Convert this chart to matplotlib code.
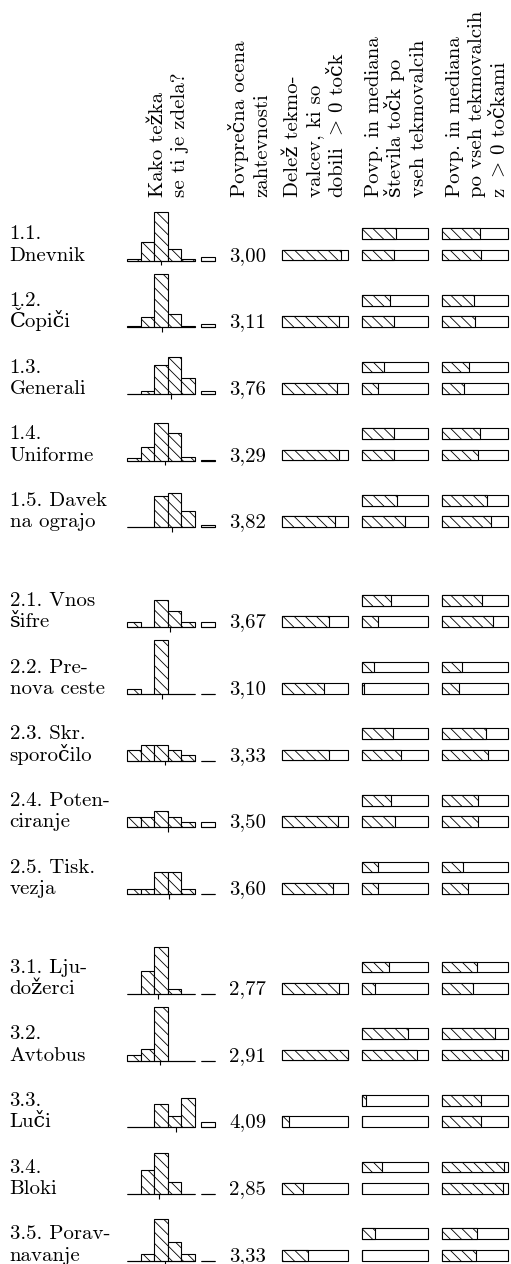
import numpy as np
import matplotlib
matplotlib.use('Agg')
from matplotlib import pyplot as plt

# row labels (two lines each) and group of each row
labels = [
    ("1.1.", "Dnevnik"), ("1.2.", "Čopiči"), ("1.3.", "Generali"),
    ("1.4.", "Uniforme"), ("1.5. Davek", "na ograjo"),
    ("2.1. Vnos", "šifre"), ("2.2. Pre-", "nova ceste"), ("2.3. Skr.", "sporočilo"),
    ("2.4. Poten-", "ciranje"), ("2.5. Tisk.", "vezja"),
    ("3.1. Lju-", "dožerci"), ("3.2.", "Avtobus"), ("3.3.", "Luči"),
    ("3.4.", "Bloki"), ("3.5. Porav-", "navanje"),
]
groups = [0] * 5 + [1] * 5 + [2] * 5

# "Kako težka se ti je zdela?" - relative bar heights for answers 1..5
hist = [
    [2.0, 18.7, 48.7, 12.0, 2.0],
    [1.0, 10.7, 53.0, 13.7, 1.7],
    [0.0, 3.3, 29.0, 37.3, 15.7],
    [2.3, 14.0, 37.7, 27.3, 4.0],
    [0.0, 0.0, 31.7, 34.3, 16.3],
    [5.4, 0.0, 27.0, 16.2, 5.4],
    [5.4, 0.0, 54.0, 0.0, 0.0],
    [10.8, 16.2, 16.2, 10.8, 5.4],
    [10.8, 10.8, 16.2, 10.8, 5.4],
    [5.4, 5.4, 21.6, 21.6, 5.4],
    [0.0, 23.3, 47.3, 5.3, 0.0],
    [5.7, 12.0, 53.3, 0.0, 0.0],
    [0.0, 0.0, 23.7, 11.7, 29.3],
    [0.0, 23.7, 41.3, 12.0, 0.0],
    [0.0, 6.7, 41.7, 18.3, 6.7],
]
# no answer
no_answer = [4.0, 3.3, 3.3, 0.7, 2.7, 5.4, 0.0, 0.0, 5.4, 0.0, 0.0, 0.0, 5.3, 0.0, 0.0]

mean_rating = [3.00, 3.11, 3.76, 3.29, 3.82, 3.67, 3.10, 3.33, 3.50, 3.60,
               2.77, 2.91, 4.09, 2.85, 3.33]

share_pos = [0.886, 0.865, 0.826, 0.865, 0.80, 0.715, 0.64, 0.715, 0.84, 0.765,
             0.865, 1.0, 0.115, 0.325, 0.40]
avg_all = [0.515, 0.425, 0.34, 0.49, 0.535, 0.44, 0.19, 0.475, 0.44, 0.25,
           0.415, 0.70, 0.065, 0.31, 0.20]
med_all = [0.49, 0.49, 0.25, 0.49, 0.65, 0.25, 0.04, 0.59, 0.50, 0.25,
           0.20, 0.825, 0.0, 0.0, 0.0]
avg_pos = [0.575, 0.49, 0.415, 0.575, 0.675, 0.61, 0.30, 0.665, 0.54, 0.325,
           0.525, 0.80, 0.59, 0.935, 0.525]
med_pos = [0.59, 0.50, 0.34, 0.55, 0.74, 0.775, 0.265, 0.70, 0.55, 0.40,
           0.475, 0.90, 0.59, 0.925, 0.515]

# header lines; ">" is set in math mode (cmr10 has no such glyph)
headers = [
    [["Kako težka"], ["se ti je zdela?"]],
    [["Povprečna ocena"], ["zahtevnosti"]],
    [["Delež tekmo-"], ["valcev, ki so"], ["dobili", "$>$", "0 točk"]],
    [["Povp. in mediana"], ["števila točk po"], ["vseh tekmovalcih"]],
    [["Povp. in mediana"], ["po vseh tekmovalcih"], ["z", "$>$", "0 točkami"]],
]

W, H = 511, 1264
plt.rcParams['font.family'] = ['cmr10', 'DejaVu Serif']
plt.rcParams['mathtext.fontset'] = 'cm'
plt.rcParams['axes.unicode_minus'] = False
plt.rcParams['hatch.linewidth'] = 0.6
FS = 15
LW = 0.8
HATCH = '\\\\\\'

fig = plt.figure(figsize=(W / 100, H / 100), dpi=100)
renderer = fig.canvas.get_renderer()


def box(x0, y0, w, h):
    # pixel box with top-left origin -> figure fraction
    return [x0 / W, 1 - (y0 + h) / H, w / W, h / H]


def ftext(x, y, s, **kw):
    return fig.text(x / W, 1 - y / H, s, fontsize=FS, **kw)


# headers (rotated, read bottom to top)
space = 0.333 * FS * 100 / 72
header_x = [163, 245, 298, 379, 460]
for hx, lines in zip(header_x, headers):
    for i, parts in enumerate(lines):
        y = 197
        for part in parts:
            t = ftext(hx + 22.3 * i, y, part, rotation=90, rotation_mode='anchor',
                      ha='left', va='baseline')
            bb = t.get_window_extent(renderer)
            y = H - bb.y1 - space

bin_w = 13.45
x_first = 127.3
unit = 21.4
for r in range(len(labels)):
    yb = 260.7 + 66.67 * (r + 0.5 * groups[r])

    ftext(9.5, yb - 21.3, labels[r][0], va='baseline')
    ftext(9.5, yb, labels[r][1], va='baseline')

    # histogram
    x0, x1 = 0.3, 7.2
    ax = fig.add_axes(box(x_first + (x0 - 0.5) * bin_w, yb - 58,
                          (x1 - x0) * bin_w, 64))
    ax.bar(np.arange(1, 6), hist[r], width=1, facecolor='white',
           edgecolor='black', lw=LW, hatch=HATCH)
    ax.bar([6.5], [no_answer[r]], width=1, facecolor='white',
           edgecolor='black', lw=LW)
    ax.hlines([0, 0], [0.5, 6.0], [5.5, 7.0], color='black', lw=LW)
    ax.vlines(mean_rating[r], -4.7, 0, color='black', lw=LW)
    ax.set_xlim(x0, x1)
    ax.set_ylim(-6, 58)
    ax.axis('off')

    ftext(229, yb, f"{mean_rating[r]:.2f}".replace('.', ','), va='baseline')

    # bar cells
    cells = [(281.7, [share_pos[r]], [0]),
             (361.7, [med_all[r], avg_all[r]], [0, 1]),
             (441.7, [med_pos[r], avg_pos[r]], [0, 1])]
    bottom = yb - 5.6 + 0.35 * unit
    for cx, vals, slots in cells:
        ax = fig.add_axes(box(cx, bottom - 1.7 * unit, 66.6, 1.7 * unit))
        ax.barh(slots, [1] * len(slots), height=0.5, facecolor='white',
                edgecolor='black', lw=LW, clip_on=False)
        ax.barh(slots, vals, height=0.5, facecolor='white',
                edgecolor='black', lw=LW, hatch=HATCH, clip_on=False)
        ax.set_xlim(0, 1)
        ax.set_ylim(-0.35, 1.35)
        ax.axis('off')

fig.savefig("out.png", dpi=100)
